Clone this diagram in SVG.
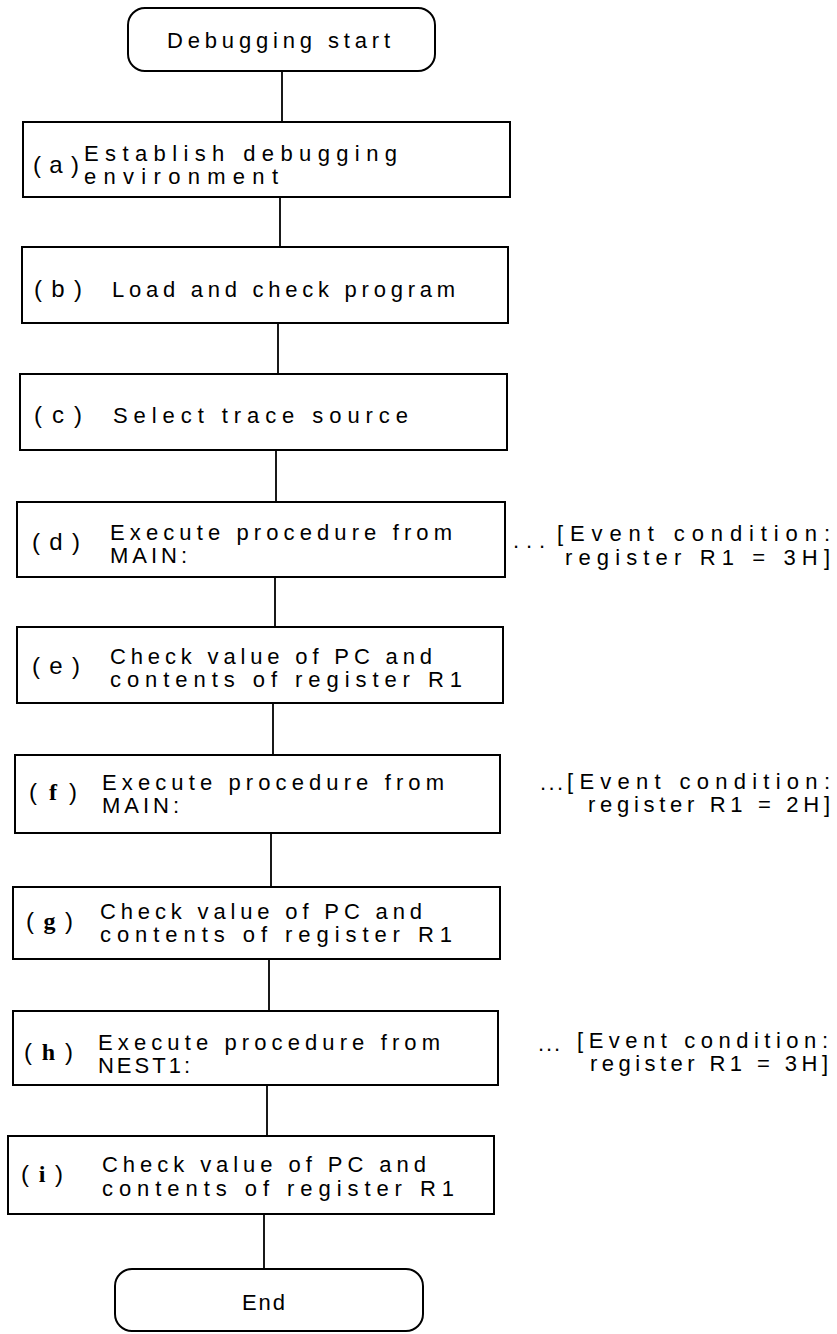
<svg xmlns="http://www.w3.org/2000/svg" width="837" height="1334" viewBox="0 0 837 1334">
  <style>
    .box { fill: #fff; stroke: #000; stroke-width: 2; }
    .wire { fill: none; stroke: #000; stroke-width: 1.8; }
    text { font-family: "Liberation Sans", Arial, sans-serif; font-size: 22px; fill: #000; }
    .tag { font-size: 24px; }
    .serif { font-family: "Liberation Serif", "Times New Roman", serif; font-weight: bold; }
  </style>
  <rect width="837" height="1334" fill="#fff"/>

  <!-- connectors between steps -->
  <g id="connectors">
    <line class="wire" x1="282" y1="71" x2="282" y2="122"/>
    <line class="wire" x1="280" y1="197" x2="280" y2="247"/>
    <line class="wire" x1="278" y1="323" x2="278" y2="374"/>
    <line class="wire" x1="276" y1="450" x2="276" y2="502"/>
    <line class="wire" x1="275" y1="577" x2="275" y2="627"/>
    <line class="wire" x1="273" y1="703" x2="273" y2="755"/>
    <line class="wire" x1="271" y1="833" x2="271" y2="887"/>
    <line class="wire" x1="269" y1="959" x2="269" y2="1011"/>
    <line class="wire" x1="267" y1="1085" x2="267" y2="1136"/>
    <line class="wire" x1="264" y1="1214" x2="264" y2="1269"/>
  </g>

  <g id="start">
    <rect class="box" x="128" y="8" width="307" height="63" rx="17"/>
    <text x="167" y="48" textLength="223" lengthAdjust="spacing">Debugging start</text>
  </g>

  <g id="step-a">
    <rect class="box" x="23" y="122" width="487" height="75"/>
    <text class="tag" x="33" y="173" textLength="46" lengthAdjust="spacing">(a)</text>
    <text x="84" y="161" textLength="313" lengthAdjust="spacing">Establish debugging</text>
    <text x="84" y="184" textLength="194" lengthAdjust="spacing">environment</text>
  </g>

  <g id="step-b">
    <rect class="box" x="22" y="247" width="486" height="76"/>
    <text class="tag" x="34" y="297" textLength="48" lengthAdjust="spacing">(b)</text>
    <text x="112" y="297" textLength="343" lengthAdjust="spacing">Load and check program</text>
  </g>

  <g id="step-c">
    <rect class="box" x="20" y="374" width="487" height="76"/>
    <text class="tag" x="34" y="423" textLength="48" lengthAdjust="spacing">(c)</text>
    <text x="113" y="423" textLength="295" lengthAdjust="spacing">Select trace source</text>
  </g>

  <g id="step-d">
    <rect class="box" x="17" y="502" width="488" height="75"/>
    <text class="tag" x="32" y="550" textLength="48" lengthAdjust="spacing">(d)</text>
    <text x="110" y="540" textLength="342" lengthAdjust="spacing">Execute procedure from</text>
    <text x="110" y="563" textLength="77" lengthAdjust="spacing">MAIN:</text>
  </g>
  <g id="note-d">
    <text x="513" y="548" textLength="32" lengthAdjust="spacing">...</text>
    <text x="557" y="541" textLength="273" lengthAdjust="spacing">[Event condition:</text>
    <text x="565" y="565" textLength="265" lengthAdjust="spacing">register R1 = 3H]</text>
  </g>

  <g id="step-e">
    <rect class="box" x="17" y="627" width="486" height="76"/>
    <text class="tag" x="32" y="674" textLength="48" lengthAdjust="spacing">(e)</text>
    <text x="110" y="664" textLength="322" lengthAdjust="spacing">Check value of PC and</text>
    <text x="110" y="687" textLength="352" lengthAdjust="spacing">contents of register R1</text>
  </g>

  <g id="step-f">
    <rect class="box" x="15" y="755" width="485" height="78"/>
    <text class="tag" x="29" y="800" textLength="48" lengthAdjust="spacing">(<tspan class="serif">f</tspan>)</text>
    <text x="102" y="790" textLength="342" lengthAdjust="spacing">Execute procedure from</text>
    <text x="102" y="813" textLength="77" lengthAdjust="spacing">MAIN:</text>
  </g>
  <g id="note-f">
    <text x="540" y="790" textLength="23" lengthAdjust="spacing">...</text>
    <text x="567" y="789" textLength="263" lengthAdjust="spacing">[Event condition:</text>
    <text x="588" y="812" textLength="242" lengthAdjust="spacing">register R1 = 2H]</text>
  </g>

  <g id="step-g">
    <rect class="box" x="13" y="887" width="487" height="72"/>
    <text class="tag" x="26" y="929" textLength="47" lengthAdjust="spacing">(<tspan class="serif">g</tspan>)</text>
    <text x="100" y="919" textLength="322" lengthAdjust="spacing">Check value of PC and</text>
    <text x="100" y="942" textLength="352" lengthAdjust="spacing">contents of register R1</text>
  </g>

  <g id="step-h">
    <rect class="box" x="13" y="1011" width="485" height="74"/>
    <text class="tag" x="24" y="1060" textLength="49" lengthAdjust="spacing">(<tspan class="serif">h</tspan>)</text>
    <text x="98" y="1050" textLength="342" lengthAdjust="spacing">Execute procedure from</text>
    <text x="98" y="1073" textLength="92" lengthAdjust="spacing">NEST1:</text>
  </g>
  <g id="note-h">
    <text x="538" y="1051" textLength="22" lengthAdjust="spacing">...</text>
    <text x="577" y="1048" textLength="251" lengthAdjust="spacing">[Event condition:</text>
    <text x="590" y="1071" textLength="238" lengthAdjust="spacing">register R1 = 3H]</text>
  </g>

  <g id="step-i">
    <rect class="box" x="8" y="1136" width="486" height="78"/>
    <text class="tag" x="21" y="1182" textLength="42" lengthAdjust="spacing">(<tspan class="serif">i</tspan>)</text>
    <text x="102" y="1172" textLength="324" lengthAdjust="spacing">Check value of PC and</text>
    <text x="102" y="1196" textLength="352" lengthAdjust="spacing">contents of register R1</text>
  </g>

  <g id="end">
    <rect class="box" x="115" y="1269" width="308" height="62" rx="17"/>
    <text x="242" y="1310" textLength="43" lengthAdjust="spacing">End</text>
  </g>
</svg>
